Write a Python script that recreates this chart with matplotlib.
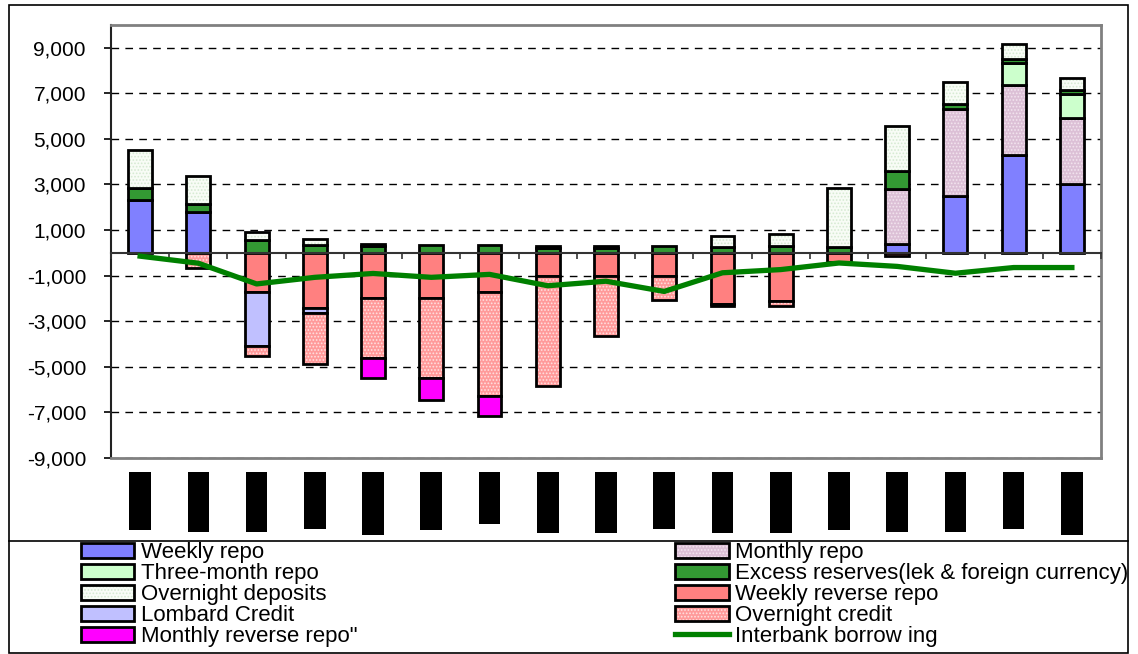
import numpy as np
import matplotlib.pyplot as plt
from matplotlib.patches import Patch, Rectangle
from matplotlib.lines import Line2D
from matplotlib.ticker import FuncFormatter

plt.rcParams['font.family'] = ['Liberation Sans', 'DejaVu Sans']
plt.rcParams['hatch.linewidth'] = 0.8

# periods (the original labels render as black blocks)
periods = ['Jan-08', 'Feb-08', 'Mar-08', 'Apr-08', 'May-08', 'Jun-08', 'Jul-08', 'Aug-08', 'Sep-08',
           'Oct-08', 'Nov-08', 'Dec-08', 'Jan-09', 'Feb-09', 'Mar-09', 'Apr-09', 'May-09']

# liquidity absorbing (positive)
weekly_repo = [2300, 1780, 0, 0, 0, 0, 0, 0, 0, 0, 0, 0, 0, 390, 2480, 4310, 3000]
monthly_repo = [0, 0, 0, 0, 0, 0, 0, 0, 0, 0, 0, 0, 0, 2430, 3840, 3040, 2910]
three_month_repo = [0, 0, 0, 0, 0, 0, 0, 0, 0, 0, 0, 0, 0, 0, 0, 980, 1070]
excess_reserves = [540, 370, 540, 360, 280, 330, 330, 200, 200, 280, 230, 280, 270, 790, 190, 190, 150]
overnight_deposits = [1690, 1230, 390, 230, 100, 0, 0, 80, 80, 0, 500, 550, 2580, 1950, 980, 650, 550]

# liquidity injecting (negative)
weekly_reverse_repo = [0, 0, -1740, -2420, -2000, -1980, -1740, -1030, -1000, -1000, -2250, -2140, -420, -150, 0, 0, 0]
lombard_credit = [0, 0, -2350, -240, 0, 0, 0, 0, 0, 0, 0, 0, 0, 0, 0, 0, 0]
overnight_credit = [0, -660, -460, -2220, -2620, -3520, -4550, -4820, -2670, -1070, -70, -190, 0, 0, 0, 0, 0]
monthly_reverse_repo = [0, 0, 0, 0, -880, -960, -880, 0, 0, 0, 0, 0, 0, 0, 0, 0, 0]

interbank = [-150, -460, -1370, -1080, -910, -1080, -950, -1450, -1250, -1700, -880, -740, -450, -600, -900, -650, -650]

W, H = 1138, 654
fig = plt.figure(figsize=(W / 100, H / 100), dpi=100)
ax = fig.add_axes([111 / W, 1 - 457.7 / H, (1101 - 111) / W, (457.7 - 25) / H])

x = np.arange(len(periods))
width = 0.41
LW = 2.0

# (values, face colour, dotted texture colour or None, label)
positive = [
    (weekly_repo, '#8080ff', None, 'Weekly repo'),
    (monthly_repo, '#dcc0d6', '#f2e4ee', 'Monthly repo'),
    (three_month_repo, '#ccffcc', None, 'Three-month repo'),
    (excess_reserves, '#339933', None, 'Excess reserves(lek & foreign currency)'),
    (overnight_deposits, '#f8fcf6', '#d6ead3', 'Overnight deposits'),
]
negative = [
    (weekly_reverse_repo, '#ff8080', None, 'Weekly reverse repo'),
    (lombard_credit, '#c0c0ff', None, 'Lombard Credit'),
    (overnight_credit, '#ff9a9a', '#ffe0e0', 'Overnight credit'),
    (monthly_reverse_repo, '#ff00ff', None, 'Monthly reverse repo"'),
]

handles = {}
for group in (positive, negative):
    bottom = np.zeros(len(x))
    for vals, col, dots, lab in group:
        v = np.array(vals, dtype=float)
        m = v != 0
        if dots:
            # face, then dotted texture (hatch takes the edge colour), then the black outline
            ax.bar(x[m], v[m], width, bottom=bottom[m], color=col, linewidth=0, zorder=2)
            ax.bar(x[m], v[m], width, bottom=bottom[m], facecolor='none', edgecolor=dots,
                   linewidth=0, hatch='.....', zorder=2)
            ax.bar(x[m], v[m], width, bottom=bottom[m], facecolor='none', edgecolor='black',
                   linewidth=LW, zorder=2)
            handles[lab] = (Patch(facecolor=col, linewidth=0),
                            Patch(facecolor='none', edgecolor=dots, linewidth=0, hatch='.....'),
                            Patch(facecolor='none', edgecolor='black', linewidth=LW))
        else:
            ax.bar(x[m], v[m], width, bottom=bottom[m], color=col, edgecolor='black', linewidth=LW, zorder=2)
            handles[lab] = Patch(facecolor=col, edgecolor='black', linewidth=LW)
        bottom += v

ax.plot(x, interbank, color='#008000', lw=3.8, zorder=6)
handles['Interbank borrow ing'] = Line2D([], [], color='#008000', lw=3.8)

ylo, yhi = -9000, 10000
ax.set_ylim(ylo, yhi)
ax.set_xlim(-0.5, len(x) - 0.5)
ax.set_yticks(np.arange(-9000, 10000, 2000))
ax.yaxis.set_major_formatter(FuncFormatter(lambda v, p: f'{v:,.0f}'))
ax.yaxis.grid(True, color='black', lw=1, linestyle=(0, (5.5, 4.5)))
ax.set_axisbelow(True)
ax.tick_params(axis='y', direction='out', length=5, width=1.2, pad=13, labelsize=15)

for s in ['top', 'right', 'bottom']:
    ax.spines[s].set_color('#808080')
    ax.spines[s].set_linewidth(2)
ax.spines['left'].set_color('#222222')
ax.spines['left'].set_linewidth(1.5)

# category labels (rendered as solid black blocks in the original)
ax.set_xticks(x, periods, rotation=90, fontsize=12, color='black')
ax.tick_params(axis='x', length=0, pad=13)
for lab in ax.get_xticklabels():
    lab.set_bbox(dict(facecolor='black', edgecolor='none', boxstyle='square,pad=0.2'))

# zero line with category boundary ticks
sec = ax.secondary_xaxis((0 - ylo) / (yhi - ylo))
sec.set_xticks(np.arange(-0.5, len(x), 1.0))
sec.tick_params(direction='out', length=4.5, width=1.2, labelbottom=False, color='#333333')
sec.spines['bottom'].set_color('#333333')
sec.spines['bottom'].set_linewidth(1.5)
sec.set_zorder(3)

order = ['Weekly repo', 'Three-month repo', 'Overnight deposits', 'Lombard Credit', 'Monthly reverse repo"',
         'Monthly repo', 'Excess reserves(lek & foreign currency)', 'Weekly reverse repo', 'Overnight credit',
         'Interbank borrow ing']
fig.legend([handles[k] for k in order], order, ncol=2, loc='upper left',
           bbox_to_anchor=(81 / W, 1 - 542 / H), frameon=False, borderpad=0, borderaxespad=0,
           fontsize=16, handlelength=2.4, handleheight=0.68, handletextpad=0.3,
           labelspacing=0.0, columnspacing=14.3)

# chart frame and legend divider
fig.add_artist(Rectangle((9 / W, 1 - 653 / H), (1128 - 9) / W, (653 - 5) / H,
                         transform=fig.transFigure, fill=False, ec='black', lw=1.2))
fig.add_artist(Line2D([9 / W, 1128 / W], [1 - 541 / H] * 2, transform=fig.transFigure, color='black', lw=1.2))

fig.savefig('out.png', dpi=100)
